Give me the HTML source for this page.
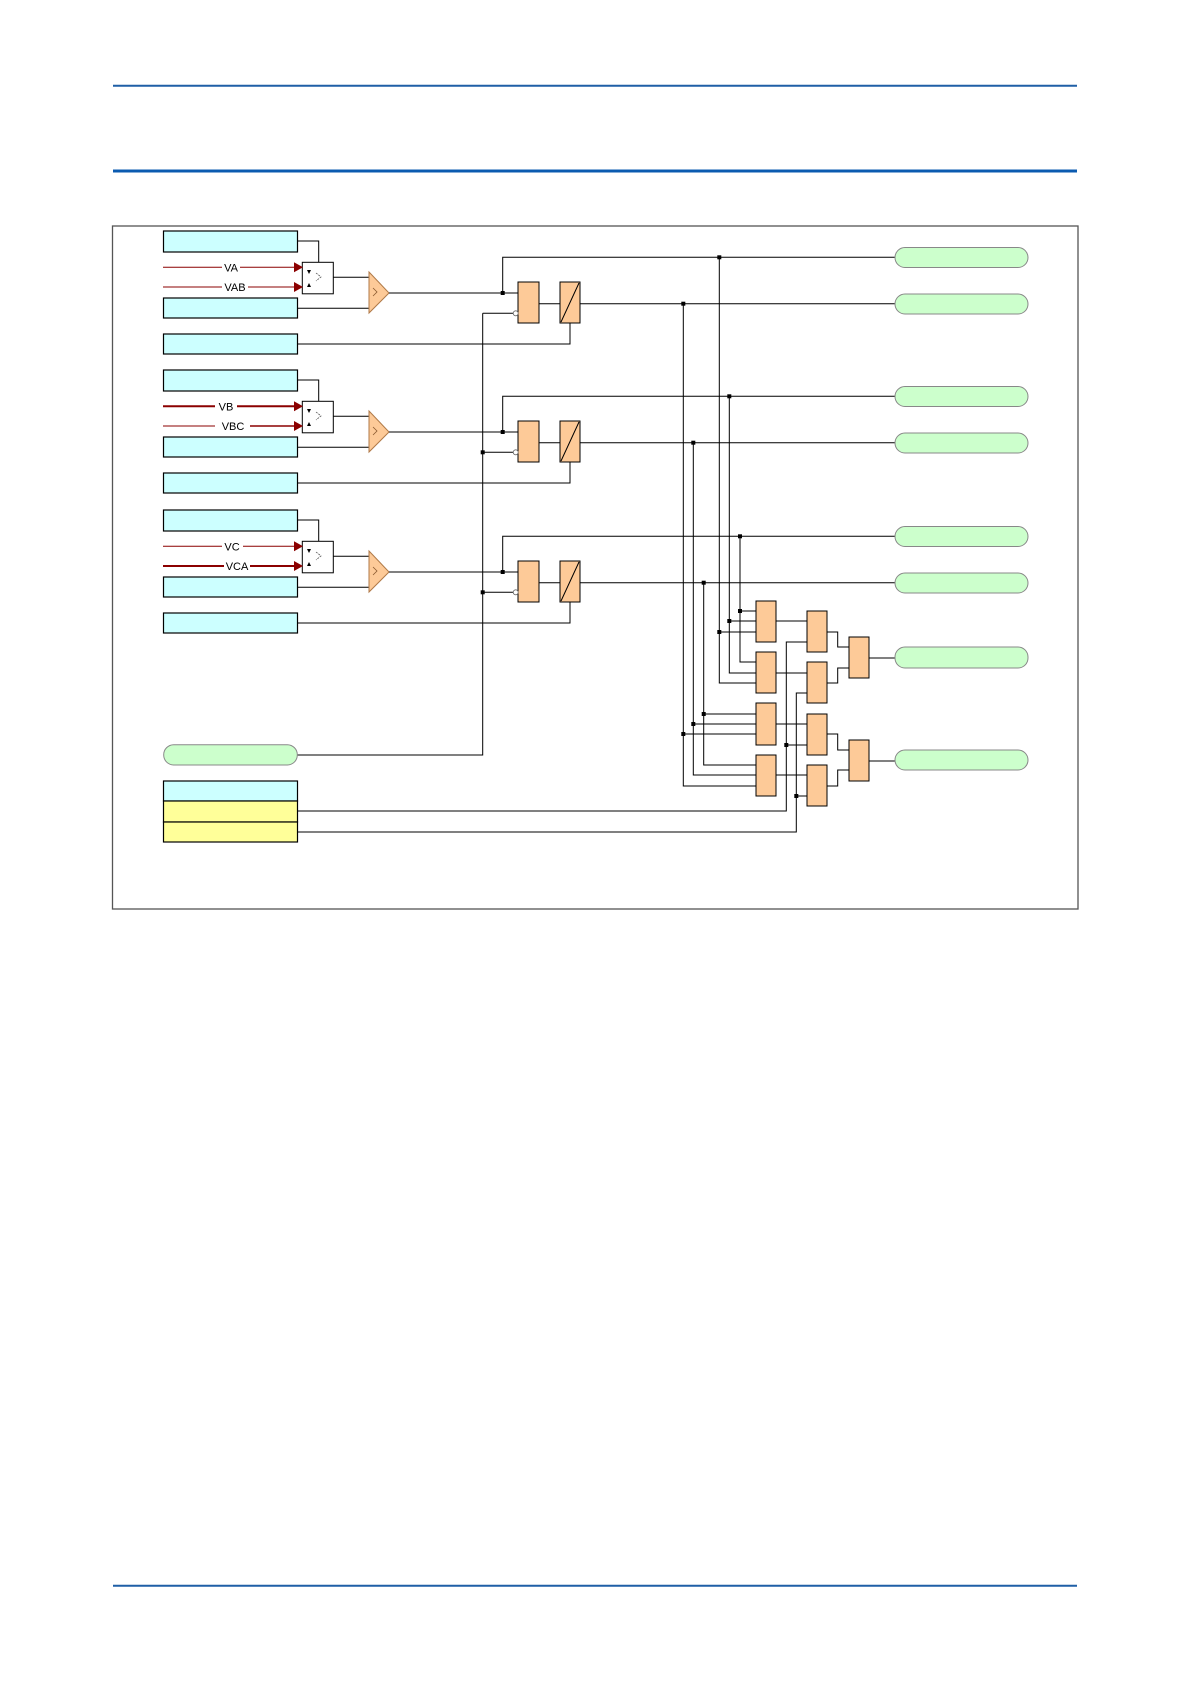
<!DOCTYPE html>
<html><head><meta charset="utf-8"><style>
html,body{margin:0;padding:0;background:#fff;}
svg{display:block;font-family:"Liberation Sans",sans-serif;}
</style></head><body>
<svg width="1191" height="1684" viewBox="0 0 1191 1684" xmlns="http://www.w3.org/2000/svg">
<defs>
<g id="row">
  <rect x="163.5" y="231" width="134" height="21" fill="#ccffff" stroke="#000" stroke-width="1.2"/>
  <rect x="163.5" y="298" width="134" height="20" fill="#ccffff" stroke="#000" stroke-width="1.2"/>
  <rect x="163.5" y="334" width="134" height="20" fill="#ccffff" stroke="#000" stroke-width="1.2"/>
  <polyline points="297.7,241 318.7,241 318.7,272" fill="none" stroke="#000" stroke-width="1"/>
  <rect x="302.3" y="262.3" width="31" height="31.5" fill="#fff" stroke="#000" stroke-width="1"/>
  <path d="M307,270 l4,0 l-2,4z M307,287 l4,0 l-2,-4z" fill="#000"/>
  <path d="M316,273 l5,4 l-5,4" fill="none" stroke="#555" stroke-width="0.8" stroke-dasharray="2,1"/>
  <line x1="333.3" y1="277.3" x2="369" y2="277.3" stroke="#000" stroke-width="1"/>
  <line x1="297.7" y1="308.3" x2="369" y2="308.3" stroke="#000" stroke-width="1"/>
  <polygon points="369,272 389,293 369,313" fill="#fdca98" stroke="#b07a48" stroke-width="1"/>
  <path d="M373,288 l4,4 l-4,4" fill="none" stroke="#8a5a30" stroke-width="0.8"/>
  <line x1="389" y1="293" x2="518" y2="293" stroke="#000" stroke-width="1"/>
  <polyline points="502.7,293 502.7,257.3 895,257.3" fill="none" stroke="#000" stroke-width="1"/>
  <rect x="500.7" y="291" width="4" height="4" fill="#000"/>
  <rect x="518" y="282" width="21" height="41" fill="#fdca98" stroke="#000" stroke-width="1"/>
  <rect x="560" y="282" width="20" height="41" fill="#fdca98" stroke="#000" stroke-width="1"/>
  <line x1="561" y1="322" x2="579" y2="283" stroke="#000" stroke-width="1"/>
  <line x1="539" y1="303.7" x2="560" y2="303.7" stroke="#000" stroke-width="1"/>
  <line x1="580" y1="303.7" x2="895" y2="303.7" stroke="#000" stroke-width="1"/>
  <polyline points="297.7,344 570,344 570,323" fill="none" stroke="#000" stroke-width="1"/>
  <line x1="482.7" y1="313.3" x2="513.2" y2="313.3" stroke="#000" stroke-width="1"/>
  <circle cx="515.7" cy="313.3" r="2.5" fill="#fff" stroke="#666" stroke-width="0.8"/>
  <rect x="895" y="247.5" width="133" height="20" rx="10" fill="#ccffcc" stroke="#888" stroke-width="1"/>
  <rect x="895" y="294" width="133" height="20" rx="10" fill="#ccffcc" stroke="#888" stroke-width="1"/>
</g>
<g id="arrow"><polygon points="0,-5 9,0 0,5" fill="#8b0000"/></g>
</defs>

<line x1="113" y1="85.7" x2="1077" y2="85.7" stroke="#1f5fa6" stroke-width="2"/>
<line x1="113" y1="171" x2="1077" y2="171" stroke="#0b5bb0" stroke-width="3"/>
<line x1="113" y1="1585.7" x2="1077" y2="1585.7" stroke="#1f5fa6" stroke-width="2"/>
<rect x="112.5" y="226" width="965.5" height="683" fill="none" stroke="#555" stroke-width="1.3"/>

<use href="#row"/>
<use href="#row" transform="translate(0,139)"/>
<use href="#row" transform="translate(0,279)"/>

<!-- red inputs -->
<g stroke="#8b0000" fill="none">
  <line x1="163" y1="267.3" x2="222" y2="267.3" stroke-width="1"/><line x1="240" y1="267.3" x2="295" y2="267.3" stroke-width="1"/>
  <line x1="163" y1="287" x2="222" y2="287" stroke-width="1"/><line x1="248" y1="287" x2="295" y2="287" stroke-width="1"/>
  <line x1="163" y1="406.3" x2="215" y2="406.3" stroke-width="2"/><line x1="237" y1="406.3" x2="295" y2="406.3" stroke-width="2"/>
  <line x1="163" y1="426" x2="215" y2="426" stroke-width="1"/><line x1="250" y1="426" x2="295" y2="426" stroke-width="1.5"/>
  <line x1="163" y1="546.3" x2="222" y2="546.3" stroke-width="1"/><line x1="243" y1="546.3" x2="295" y2="546.3" stroke-width="1"/>
  <line x1="163" y1="566" x2="224" y2="566" stroke-width="2"/><line x1="250" y1="566" x2="295" y2="566" stroke-width="2"/>
</g>
<use href="#arrow" x="294" y="267.3"/><use href="#arrow" x="294" y="287"/>
<use href="#arrow" x="294" y="406.3"/><use href="#arrow" x="294" y="426"/>
<use href="#arrow" x="294" y="546.3"/><use href="#arrow" x="294" y="566"/>
<g font-size="11" fill="#000" text-anchor="middle">
  <text x="231" y="271.5">VA</text><text x="235" y="291">VAB</text>
  <text x="226" y="410.5">VB</text><text x="233" y="430">VBC</text>
  <text x="232" y="550.5">VC</text><text x="237" y="570">VCA</text>
</g>

<!-- left bus for inverted inputs -->
<polyline points="482.7,313.3 482.7,755 297.3,755" fill="none" stroke="#000" stroke-width="1"/>
<rect x="480.7" y="450.3" width="4" height="4" fill="#000"/>
<rect x="480.7" y="590.3" width="4" height="4" fill="#000"/>
<rect x="163.7" y="744.7" width="133.6" height="20.3" rx="10" fill="#ccffcc" stroke="#888" stroke-width="1"/>
<rect x="163.5" y="781" width="134" height="20" fill="#ccffff" stroke="#000" stroke-width="1.2"/>
<rect x="163.5" y="801" width="134" height="21" fill="#ffff99" stroke="#000" stroke-width="1.2"/>
<rect x="163.5" y="822" width="134" height="20" fill="#ffff99" stroke="#000" stroke-width="1.2"/>

<!-- vertical buses -->
<g stroke="#000" stroke-width="1" fill="none">
  <polyline points="719.3,257.3 719.3,683 756,683"/>
  <polyline points="729.3,396.3 729.3,673 756,673"/>
  <polyline points="740,536.3 740,662 756,662"/>
  <polyline points="683.3,303.7 683.3,786 756,786"/>
  <polyline points="693.3,442.7 693.3,775 756,775"/>
  <polyline points="703.7,582.7 703.7,765 756,765"/>
  <line x1="740" y1="611" x2="756" y2="611"/>
  <line x1="729.3" y1="621" x2="756" y2="621"/>
  <line x1="719.3" y1="632" x2="756" y2="632"/>
  <line x1="703.7" y1="714" x2="756" y2="714"/>
  <line x1="693.3" y1="724" x2="756" y2="724"/>
  <line x1="683.3" y1="734" x2="756" y2="734"/>
  <!-- col1 -> col2 -->
  <line x1="776" y1="621" x2="807" y2="621"/>
  <line x1="776" y1="673" x2="807" y2="673"/>
  <line x1="776" y1="724" x2="807" y2="724"/>
  <line x1="776" y1="775" x2="807" y2="775"/>
  <!-- yellow feeds -->
  <polyline points="297.7,811 786.3,811 786.3,642 807,642"/>
  <line x1="786.3" y1="745" x2="807" y2="745"/>
  <polyline points="297.7,832 796.3,832 796.3,693 807,693"/>
  <line x1="796.3" y1="796" x2="807" y2="796"/>
  <!-- col2 -> col3 -->
  <polyline points="827,632 837.7,632 837.7,647 849,647"/>
  <polyline points="827,683 837.7,683 837.7,668 849,668"/>
  <polyline points="827,734 837.7,734 837.7,750 849,750"/>
  <polyline points="827,786 837.7,786 837.7,770 849,770"/>
  <line x1="868.7" y1="658" x2="895" y2="658"/>
  <line x1="868.7" y1="761" x2="895" y2="761"/>
</g>
<g fill="#000">
  <rect x="717.3" y="255.3" width="4" height="4"/>
  <rect x="727.3" y="394.3" width="4" height="4"/>
  <rect x="738" y="534.3" width="4" height="4"/>
  <rect x="681.3" y="301.7" width="4" height="4"/>
  <rect x="691.3" y="440.7" width="4" height="4"/>
  <rect x="701.7" y="580.7" width="4" height="4"/>
  <rect x="738" y="609" width="4" height="4"/>
  <rect x="727.3" y="619" width="4" height="4"/>
  <rect x="717.3" y="630" width="4" height="4"/>
  <rect x="701.7" y="712" width="4" height="4"/>
  <rect x="691.3" y="722" width="4" height="4"/>
  <rect x="681.3" y="732" width="4" height="4"/>
  <rect x="784.3" y="743" width="4" height="4"/>
  <rect x="794.3" y="794" width="4" height="4"/>
</g>
<g fill="#fdca98" stroke="#000" stroke-width="1">
  <rect x="756" y="601" width="20" height="41"/>
  <rect x="756" y="652" width="20" height="41"/>
  <rect x="756" y="703" width="20" height="42"/>
  <rect x="756" y="755" width="20" height="41"/>
  <rect x="807" y="611" width="20" height="41"/>
  <rect x="807" y="662" width="20" height="41"/>
  <rect x="807" y="714" width="20" height="41"/>
  <rect x="807" y="765" width="20" height="41"/>
  <rect x="849" y="637" width="20" height="41"/>
  <rect x="849" y="740" width="20" height="41"/>
</g>
<rect x="895" y="647" width="133" height="21" rx="10" fill="#ccffcc" stroke="#888" stroke-width="1"/>
<rect x="895" y="750" width="133" height="20" rx="10" fill="#ccffcc" stroke="#888" stroke-width="1"/>
</svg>
</body></html>
